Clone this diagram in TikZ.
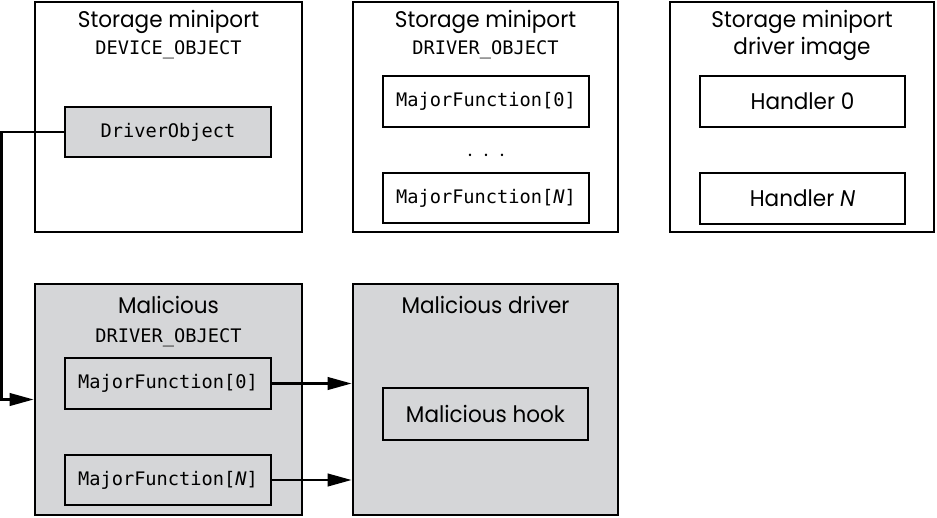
\documentclass[tikz,border=0pt]{standalone}
\usepackage{fontspec}
\setmainfont{Poppins}[FakeStretch=0.95]
\setmonofont{DejaVu Sans Mono}
\usetikzlibrary{arrows.meta}
\definecolor{boxgray}{RGB}{213,214,216}
\begin{document}
\begin{tikzpicture}[x=0.75pt,y=-0.75pt,
  sz/.style 2 args={minimum width=#1*0.75pt, minimum height=#2*0.75pt},
  frame/.style={draw=black, line width=2.2pt, inner sep=0pt},
  field/.style={frame, font=\fontsize{14}{16}\ttfamily},
  hbox/.style={frame, font=\fontsize{17}{20}\selectfont},
  title/.style={anchor=base, inner sep=0pt, font=\fontsize{17}{20}\selectfont},
  mtitle/.style={anchor=base, inner sep=0pt, font=\fontsize{14}{16}\ttfamily},
  conn/.style={line width=1.6pt, -{Triangle[length=18pt,width=9.5pt]}},
  shaded/.style={fill=boxgray}
]
\useasboundingbox (0,0) rectangle (937,517);
% top row
\node[frame, sz={267}{230}] (dev) at (168.5,117) {};
\node[title] (devt1) at (168.5,28) {Storage miniport};
\node[mtitle] (devt2) at (168.5,55) {DEVICE\_OBJECT};
\node[field, shaded, sz={206}{50}] (drvobj) at (168,132) {DriverObject};

\node[frame, sz={265}{230}] (sdrv) at (485.5,117) {};
\node[title] (sdrvt1) at (485.5,28) {Storage miniport};
\node[mtitle] (sdrvt2) at (485.5,55) {DRIVER\_OBJECT};
\node[field, sz={206}{51}] (smf0) at (486,101.5) {MajorFunction[0]};
\node[inner sep=0pt, anchor=base, font=\fontsize{15}{18}\selectfont] (dots) at (486,156) {.\hspace{9pt}.\hspace{9pt}.};
\node[field, sz={206}{50}] (smfn) at (486,198) {MajorFunction[\textit{N}]};

\node[frame, sz={264}{230}] (img) at (802,117) {};
\node[title] (imgt1) at (802,28) {Storage miniport};
\node[title] (imgt2) at (802,55) {driver image};
\node[hbox, sz={205}{51}] (h0) at (802.5,101.5) {Handler 0};
\node[hbox, sz={205}{51}] (hn) at (802.5,198.5) {Handler \textit{N}};

% bottom row
\node[frame, shaded, sz={267}{231}] (mal) at (168.5,399.5) {};
\node[title] (malt1) at (168.5,313) {Malicious};
\node[mtitle] (malt2) at (168.5,342) {DRIVER\_OBJECT};
\node[field, sz={206}{51}] (mmf0) at (168,383.5) {MajorFunction[0]};
\node[field, sz={206}{50}] (mmfn) at (168,480) {MajorFunction[\textit{N}]};

\node[frame, shaded, sz={265}{231}] (mdrv) at (485.5,399.5) {};
\node[title] (mdrvt) at (485.5,313) {Malicious driver};
\node[hbox, sz={205}{52}] (hook) at (485.5,414) {Malicious hook};

% connectors
\draw[conn] (drvobj.west) -- ++(-62,0) |- (mal.west);
\draw[conn] (mmf0.east) -- (mmf0.east -| mdrv.west);
\draw[conn] (mmfn.east) -- (mmfn.east -| mdrv.west);
\end{tikzpicture}
\end{document}
